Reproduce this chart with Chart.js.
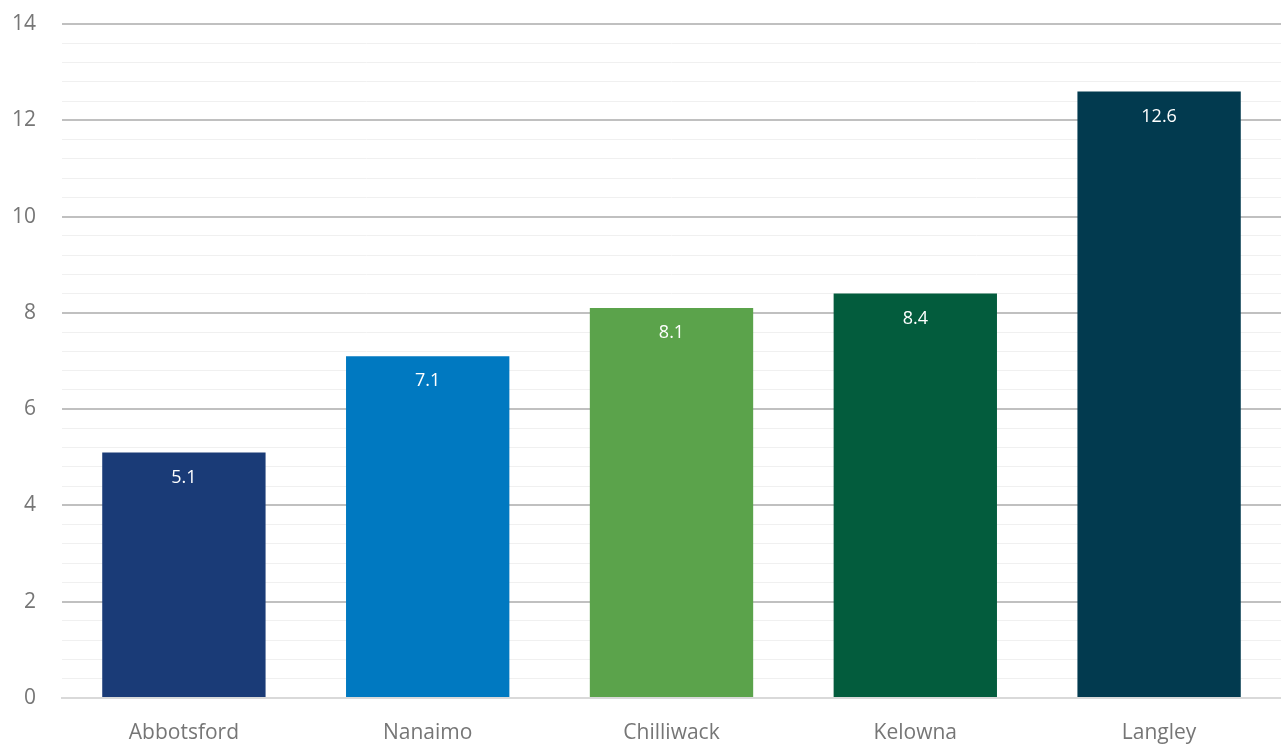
<!DOCTYPE html>
<html>
<head>
<meta charset="utf-8">
<script src="https://cdn.jsdelivr.net/npm/chart.js@4/dist/chart.umd.min.js"></script>
<style>
  html, body { margin: 0; padding: 0; background: #fff; }
  #wrap { width: 1281px; height: 746px; }
</style>
</head>
<body>
<div id="wrap"><canvas id="chart"></canvas></div>
<script>
var cities = ['Abbotsford', 'Nanaimo', 'Chilliwack', 'Kelowna', 'Langley'];
var values = [5.1, 7.1, 8.1, 8.4, 12.6];
var barColors = ['#1a3b77', '#0079c1', '#5ba34b', '#035c3d', '#023a4f'];
var yMax = 14;

var FONT = '"Open Sans", Lato, sans-serif';

// white value labels just inside the top of each bar
var valueLabels = {
  id: 'valueLabels',
  afterDatasetsDraw: function(chart) {
    var ctx = chart.ctx;
    var meta = chart.getDatasetMeta(0);
    ctx.save();
    ctx.fillStyle = '#ffffff';
    ctx.font = '18px ' + FONT;
    ctx.textAlign = 'center';
    ctx.textBaseline = 'middle';
    meta.data.forEach(function(bar, i) {
      ctx.fillText(values[i].toFixed(1), bar.x, bar.y + 25);
    });
    ctx.restore();
  }
};

function isMajor(v) {
  return Math.round(v * 10) % 20 === 0;
}

new Chart(document.getElementById('chart'), {
  type: 'bar',
  data: {
    labels: cities,
    datasets: [{
      data: values,
      backgroundColor: barColors,
      categoryPercentage: 0.67,
      barPercentage: 1
    }]
  },
  options: {
    responsive: true,
    maintainAspectRatio: false,
    animation: false,
    layout: { padding: { top: 24, right: 0, left: 0, bottom: 0 } },
    plugins: {
      legend: { display: false },
      tooltip: { enabled: false }
    },
    scales: {
      x: {
        grid: { display: false, drawTicks: false },
        border: { display: true, color: '#d9d9d9', width: 2 },
        ticks: { color: '#767676', font: { family: FONT, size: 21 }, padding: 22 },
        afterFit: function(scale) { scale.height = 48; scale.paddingLeft = 0; scale.paddingRight = 0; }
      },
      y: {
        min: 0,
        max: yMax,
        border: { display: false },
        grid: {
          drawTicks: false,
          color: function(c) { return isMajor(c.tick.value) ? '#c0c0c0' : '#f0f0f0'; },
          lineWidth: function(c) { return isMajor(c.tick.value) ? 2 : 1; }
        },
        ticks: {
          stepSize: 0.4,
          autoSkip: false,
          color: '#767676',
          font: { family: FONT, size: 21 },
          padding: 26,
          callback: function(v) { return isMajor(v) ? String(Math.round(v)) : ''; }
        },
        afterFit: function(scale) { scale.width = 62; scale.paddingTop = 0; scale.paddingBottom = 0; }
      }
    }
  },
  plugins: [valueLabels]
});
</script>
</body>
</html>
